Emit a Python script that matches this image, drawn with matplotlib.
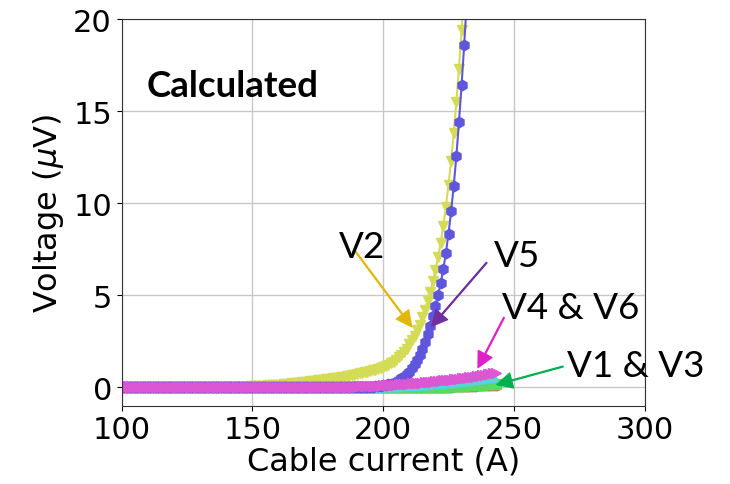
import numpy as np
import matplotlib.pyplot as plt

# voltage taps V1..V6, one reading per ampere starting at 100 A
i_start = 100

v1 = [0.0] * 120 + [0.01, 0.02, 0.02, 0.03, 0.03, 0.04, 0.04, 0.05, 0.05, 0.06,
                    0.06, 0.07, 0.07, 0.08, 0.09, 0.09, 0.10, 0.11, 0.11, 0.12,
                    0.13, 0.13, 0.14, 0.15]
v2 = [0.0] * 40 + [0.01, 0.01, 0.02, 0.02, 0.02, 0.03, 0.03, 0.04, 0.04, 0.05,
                   0.05, 0.06, 0.07, 0.07, 0.08, 0.09, 0.10, 0.11, 0.12, 0.13,
                   0.14, 0.15, 0.17, 0.18, 0.19, 0.21, 0.22, 0.24, 0.25, 0.27,
                   0.28, 0.30, 0.32, 0.33, 0.35, 0.37, 0.39, 0.41, 0.43, 0.45,
                   0.47, 0.49, 0.51, 0.53, 0.56, 0.58, 0.61, 0.63, 0.66, 0.69,
                   0.72, 0.75, 0.78, 0.81, 0.85, 0.88, 0.92, 0.96, 1.00, 1.04,
                   1.10, 1.16, 1.23, 1.31, 1.40, 1.50, 1.62, 1.75, 1.90, 2.10,
                   2.35, 2.55, 2.80, 3.10, 3.40, 3.80, 4.20, 4.70, 5.20, 5.75,
                   6.35, 7.05, 7.85, 8.75, 9.80, 11.0, 12.3, 13.8, 15.5, 17.3,
                   19.4, 21.7]
v3 = [0.0] * 120 + [0.01, 0.02, 0.03, 0.03, 0.04, 0.05, 0.05, 0.06, 0.07, 0.07,
                    0.08, 0.09, 0.10, 0.10, 0.11, 0.12, 0.13, 0.14, 0.15, 0.16,
                    0.17, 0.18, 0.19, 0.20]
v4 = [0.0] * 90 + [0.01, 0.01, 0.02, 0.02, 0.02, 0.03, 0.03, 0.04, 0.04, 0.05,
                   0.05, 0.06, 0.07, 0.07, 0.08, 0.09, 0.10, 0.10, 0.11, 0.12,
                   0.13, 0.14, 0.15, 0.16, 0.17, 0.18, 0.19, 0.20, 0.21, 0.22,
                   0.23, 0.25, 0.26, 0.27, 0.29, 0.30, 0.31, 0.33, 0.34, 0.36,
                   0.37, 0.39, 0.41, 0.42, 0.44, 0.46, 0.48, 0.50, 0.52, 0.54,
                   0.56, 0.58, 0.61]
v5 = [0.0] * 90 + [0.01, 0.01, 0.02, 0.02, 0.03, 0.03, 0.04, 0.05, 0.06, 0.08,
                   0.10, 0.13, 0.16, 0.20, 0.25, 0.31, 0.39, 0.48, 0.58, 0.70,
                   0.85, 1.03, 1.24, 1.48, 1.77, 2.10, 2.48, 2.90, 3.35, 3.85,
                   4.40, 5.00, 5.65, 6.40, 7.30, 8.35, 9.55, 10.95, 12.55, 14.4,
                   16.4, 18.6, 21.0]
v6 = [0.0] * 80 + [0.01, 0.01, 0.01, 0.02, 0.02, 0.02, 0.03, 0.03, 0.03, 0.04,
                   0.04, 0.05, 0.05, 0.06, 0.06, 0.07, 0.07, 0.08, 0.09, 0.09,
                   0.10, 0.11, 0.12, 0.13, 0.14, 0.15, 0.16, 0.17, 0.18, 0.19,
                   0.20, 0.21, 0.22, 0.23, 0.24, 0.26, 0.27, 0.28, 0.30, 0.31,
                   0.32, 0.34, 0.35, 0.37, 0.38, 0.40, 0.41, 0.43, 0.45, 0.46,
                   0.48, 0.50, 0.52, 0.54, 0.56, 0.58, 0.60, 0.62, 0.65, 0.67,
                   0.70, 0.73, 0.76, 0.79]

series = [v1, v2, v3, v4, v5, v6]
colors = ['#db5f57', '#d3db57', '#57db5f', '#57d3db', '#5f57db', '#db57d3']
markers = ['o', 'v', 's', '^', 'h', '>']

fig = plt.figure(figsize=(7.3, 4.85), dpi=100)
ax = fig.add_axes([0.1667, 0.1614, 0.7163, 0.7973])

for v, c, m in zip(series, colors, markers):
    cur = np.arange(i_start, i_start + len(v))
    ax.plot(cur, v, color=c, marker=m, markersize=7.5, lw=1.5)

ax.set_xlim(100, 300)
ax.set_ylim(-1, 20)
ax.set_xticks([100, 150, 200, 250, 300])
ax.set_yticks([0, 5, 10, 15, 20])
ax.grid(True, color='#c8c8c8', lw=1)
ax.set_axisbelow(True)
ax.tick_params(labelsize=22)
for s in ax.spines.values():
    s.set_color('#333333')
ax.set_xlabel('Cable current (A)', fontsize=23, labelpad=1)
ax.set_ylabel(r'Voltage ($\mu$V)', fontsize=23, labelpad=5)

ax.text(109.6, 15.83, 'Calculated', fontsize=26.5, fontweight='bold',
        family='Lato', ha='left', va='baseline')

# labels and pointers for each tap
notes = [
    ('V2', (192.1, 7.09), (189.6, 7.34), (210.9, 3.29), '#e2b80a'),
    ('V5', (251.4, 6.58), (239.6, 6.77), (218.6, 3.32), '#7030a0'),
    ('V4 & V6', (271.8, 3.77), (246.2, 3.78), (236.3, 1.07), '#e020c8'),
    ('V1 & V3', (296.6, 0.60), (268.8, 1.13), (243.5, 0.15), '#00b050'),
]
for label, txt, tail, tip, c in notes:
    ax.annotate('', xy=tip, xytext=tail,
                arrowprops=dict(facecolor=c, edgecolor=c, width=0.6,
                                headwidth=11, headlength=11, shrink=0))
    ax.text(txt[0], txt[1], label, fontsize=26.5, family='Lato',
            ha='center', va='baseline')

fig.savefig('out.png', dpi=100)
